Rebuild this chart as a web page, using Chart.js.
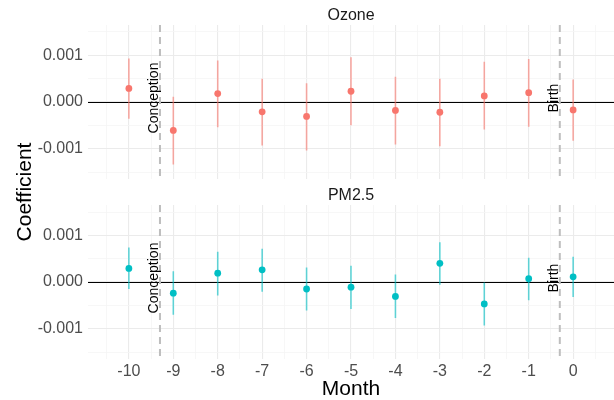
<!DOCTYPE html>
<html>
<head>
<meta charset="utf-8">
<script src="https://cdn.jsdelivr.net/npm/chart.js@4.4.1/dist/chart.umd.min.js"></script>
<style>
  html, body { margin: 0; padding: 0; background: #fff; }
  #wrap { position: relative; width: 614px; height: 400px; }
  #wrap canvas { position: absolute; left: 0; top: 0; }
</style>
</head>
<body>
<div id="wrap">
  <canvas id="ozone" width="614" height="400"></canvas>
  <canvas id="pm25" width="614" height="400"></canvas>
</div>
<script>
// months relative to birth
var months = [-10, -9, -8, -7, -6, -5, -4, -3, -2, -1, 0];

var ozoneCoef = [0.00029, -0.00061, 0.00018, -0.00021, -0.00031, 0.00023, -0.00018, -0.00022, 0.00013, 0.00020, -0.00017];
var ozoneLow  = [-0.00036, -0.00134, -0.00054, -0.00093, -0.00104, -0.00050, -0.00091, -0.00095, -0.00059, -0.00053, -0.00083];
var ozoneHigh = [0.00093, 0.00011, 0.00089, 0.00050, 0.00040, 0.00096, 0.00054, 0.00050, 0.00086, 0.00092, 0.00048];

var pm25Coef = [0.00029, -0.00024, 0.00019, 0.00026, -0.00015, -0.00011, -0.00031, 0.00040, -0.00047, 0.00007, 0.00011];
var pm25Low  = [-0.00015, -0.00070, -0.00029, -0.00021, -0.00061, -0.00058, -0.00077, -0.00006, -0.00093, -0.00039, -0.00032];
var pm25High = [0.00074, 0.00023, 0.00065, 0.00071, 0.00031, 0.00035, 0.00016, 0.00085, -0.00001, 0.00052, 0.00054];

// reference events
var eventNames = ['Conception', 'Birth'];
var eventMonths = [-9.3, -0.3];

var xTicks = [-10.5, -10, -9.5, -9, -8.5, -8, -7.5, -7, -6.5, -6, -5.5, -5, -4.5, -4, -3.5, -3, -2.5, -2, -1.5, -1, -0.5, 0, 0.5];
var yTicks = [-0.0015, -0.001, -0.0005, 0, 0.0005, 0.001, 0.0015];
var yTickLabels = ['', '-0.001', '', '0.000', '', '0.001', ''];

var FONT = '"Liberation Sans", Arial, sans-serif';

function isMajorX(v) { return Math.abs(v - Math.round(v)) < 1e-9; }
function isMajorY(v) { return Math.abs(v * 1000 - Math.round(v * 1000)) < 1e-9; }

// zero line, dashed event lines, event labels, strip title
var panelDecor = {
    id: 'panelDecor',
    beforeDatasetsDraw: function(chart, args, opts) {
        var ctx = chart.ctx, a = chart.chartArea;
        var xs = chart.scales.x, ys = chart.scales.y;
        var y0 = ys.getPixelForValue(0);
        ctx.save();
        ctx.strokeStyle = '#000';
        ctx.lineWidth = 1.2;
        ctx.beginPath();
        ctx.moveTo(a.left, Math.round(y0) + 0.5);
        ctx.lineTo(a.right, Math.round(y0) + 0.5);
        ctx.stroke();

        ctx.strokeStyle = '#BEBEBE';
        ctx.lineWidth = 2;
        ctx.setLineDash([7, 5]);
        eventMonths.forEach(function(m) {
            var x = xs.getPixelForValue(m);
            ctx.beginPath();
            ctx.moveTo(x, a.top);
            ctx.lineTo(x, a.bottom);
            ctx.stroke();
        });
        ctx.setLineDash([]);

        ctx.fillStyle = '#000';
        ctx.font = '14px ' + FONT;
        ctx.textAlign = 'center';
        ctx.textBaseline = 'alphabetic';
        eventMonths.forEach(function(m, i) {
            var x = xs.getPixelForValue(m);
            ctx.save();
            ctx.translate(x - 2, y0 - 4);
            ctx.rotate(-Math.PI / 2);
            ctx.fillText(eventNames[i], 0, 0);
            ctx.restore();
        });

        ctx.fillStyle = '#1A1A1A';
        ctx.font = '16px ' + FONT;
        ctx.textBaseline = 'middle';
        ctx.fillText(opts.title, (a.left + a.right) / 2, a.top - 9);
        ctx.restore();
    }
};

// shared axis titles
var axisTitles = {
    id: 'axisTitles',
    afterDraw: function(chart) {
        var ctx = chart.ctx;
        ctx.save();
        ctx.fillStyle = '#000';
        ctx.font = '21px ' + FONT;
        ctx.textAlign = 'center';
        ctx.textBaseline = 'middle';
        ctx.fillText('Month', 351, 389);
        ctx.translate(25, 192);
        ctx.rotate(-Math.PI / 2);
        ctx.fillText('Coefficient', 0, 0);
        ctx.restore();
    }
};

function makePanel(id, title, coef, low, high, color, barColor, bottom) {
    var points = months.map(function(m, i) { return { x: m, y: coef[i] }; });
    var bars = [];
    months.forEach(function(m, i) {
        bars.push({ x: m, y: low[i] });
        bars.push({ x: m, y: high[i] });
        bars.push({ x: m, y: null });
    });

    return new Chart(document.getElementById(id), {
        type: 'scatter',
        data: {
            datasets: [{
                label: title,
                data: points,
                backgroundColor: color,
                borderWidth: 0,
                pointRadius: 3.4,
                order: 0
            }, {
                type: 'line',
                label: title + ' CI',
                data: bars,
                borderColor: barColor,
                borderWidth: 1.6,
                pointRadius: 0,
                spanGaps: false,
                fill: false,
                order: 1
            }]
        },
        options: {
            responsive: false,
            animation: false,
            devicePixelRatio: 1,
            layout: {
                autoPadding: false,
                padding: bottom ? { top: 205, left: 0, right: 0, bottom: 0 }
                                : { top: 25, left: 0, right: 0, bottom: 221 }
            },
            plugins: {
                legend: { display: false },
                tooltip: { enabled: false },
                panelDecor: { title: title }
            },
            scales: {
                x: {
                    type: 'linear',
                    min: -10.92,
                    max: 0.92,
                    afterBuildTicks: function(s) { s.ticks = xTicks.map(function(v) { return { value: v }; }); },
                    afterFit: function(s) {
                        s.height = bottom ? 41 : 0;
                        s.paddingLeft = 0;
                        s.paddingRight = 0;
                    },
                    border: { display: false },
                    grid: {
                        drawTicks: false,
                        color: function(c) { return isMajorX(c.tick.value) ? '#EBEBEB' : '#F5F5F5'; },
                        lineWidth: function(c) { return isMajorX(c.tick.value) ? 1.1 : 0.8; }
                    },
                    ticks: {
                        display: bottom,
                        autoSkip: false,
                        maxRotation: 0,
                        padding: 3,
                        color: '#4D4D4D',
                        font: { family: FONT, size: 16 },
                        callback: function(v) { return isMajorX(v) ? String(Math.round(v)) : ''; }
                    }
                },
                y: {
                    min: -0.00165,
                    max: 0.00165,
                    afterBuildTicks: function(s) { s.ticks = yTicks.map(function(v) { return { value: v }; }); },
                    afterFit: function(s) {
                        s.width = 88;
                        s.paddingTop = 0;
                        s.paddingBottom = 0;
                    },
                    border: { display: false },
                    grid: {
                        drawTicks: false,
                        color: function(c) { return isMajorY(c.tick.value) ? '#EBEBEB' : '#F5F5F5'; },
                        lineWidth: function(c) { return isMajorY(c.tick.value) ? 1.1 : 0.8; }
                    },
                    ticks: {
                        padding: 5,
                        color: '#4D4D4D',
                        font: { family: FONT, size: 16 },
                        callback: function(v, i) { return yTickLabels[i]; }
                    }
                }
            }
        },
        plugins: bottom ? [panelDecor, axisTitles] : [panelDecor]
    });
}

makePanel('ozone', 'Ozone', ozoneCoef, ozoneLow, ozoneHigh, '#F8766D', 'rgba(248,118,109,0.6)', false);
makePanel('pm25', 'PM2.5', pm25Coef, pm25Low, pm25High, '#00BFC4', 'rgba(0,191,196,0.6)', true);
</script>
</body>
</html>
